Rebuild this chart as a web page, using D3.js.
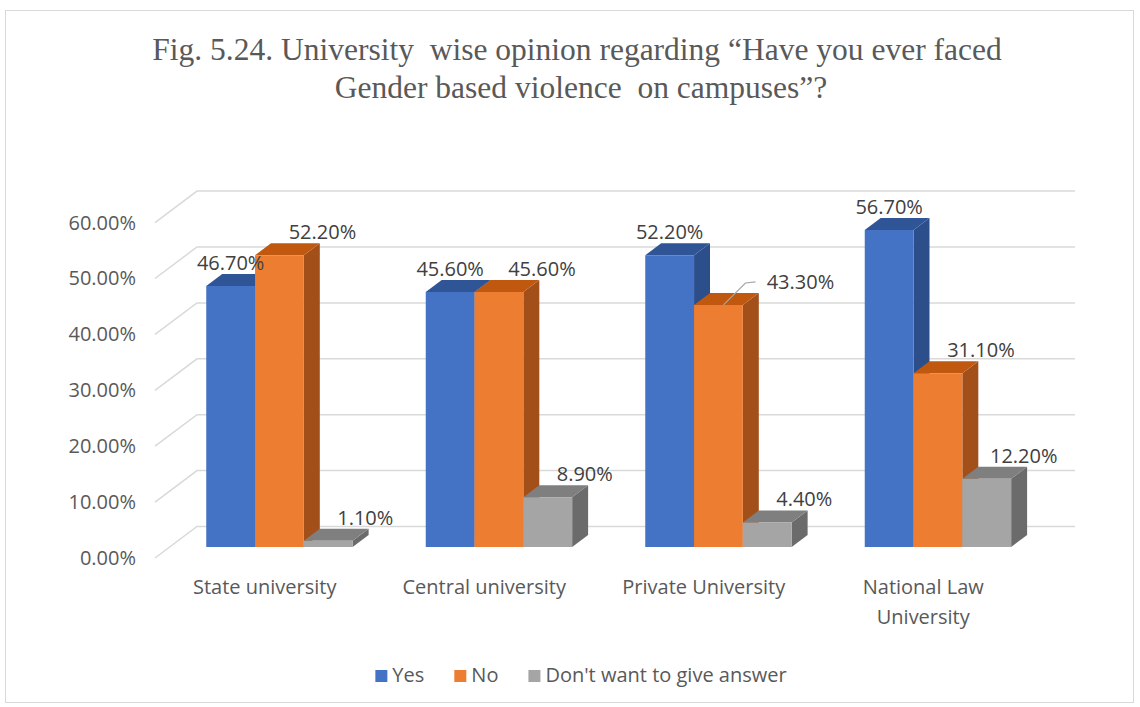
<!DOCTYPE html>
<html>
<head>
<meta charset="utf-8">
<script src="https://cdn.jsdelivr.net/npm/d3@7"></script>
<style>
  body { margin: 0; background: #fff; }
  text { font-family: "Open Sans", sans-serif; }
</style>
</head>
<body>
<script>
// chart data
const categories = ["State university", "Central university", "Private University", "National Law University"];
const seriesNames = ["Yes", "No", "Don't want to give answer"];
const yesValues = [46.7, 45.6, 52.2, 56.7];
const noValues = [52.2, 45.6, 43.3, 31.1];
const dontValues = [1.1, 8.9, 4.4, 12.2];
const yTicks = [0, 10, 20, 30, 40, 50, 60];

const seriesValues = [yesValues, noValues, dontValues];

const width = 1140, height = 707;

// face colours: front, top, side
const colors = [
    { front: "#4472c4", top: "#2f5597", side: "#2c4f8c" },
    { front: "#ed7d31", top: "#c0580f", side: "#a34f1a" },
    { front: "#a5a5a5", top: "#7f7f7f", side: "#6b6b6b" }
];

const svg = d3.select("body").append("svg")
    .attr("width", width)
    .attr("height", height);

svg.append("rect")
    .attr("x", 5.5).attr("y", 10.5)
    .attr("width", 1128).attr("height", 692)
    .attr("fill", "#fff")
    .attr("stroke", "#d9d9d9");

// title
const title = svg.append("text")
    .attr("text-anchor", "middle")
    .style("font-family", "'Liberation Serif', serif")
    .style("font-size", "31.5px")
    .style("fill", "#595959")
    .style("white-space", "pre");
title.append("tspan").attr("x", 577).attr("y", 60)
    .text("Fig. 5.24. University  wise opinion regarding \u201cHave you ever faced");
title.append("tspan").attr("x", 581).attr("y", 98)
    .text("Gender based violence  on campuses\u201d?");

// scales
const x = d3.scaleBand()
    .domain(categories)
    .range([155, 1033])
    .paddingInner(0.333)
    .paddingOuter(0.1665);

const xs = d3.scaleBand()
    .domain(seriesNames)
    .range([0, x.bandwidth()]);

const y = d3.scaleLinear()
    .domain([0, 60])
    .range([558, 222.6]);

// oblique depth: z = 0 front of floor, z = 1 back wall
const DX = 42, DY = -31.5;
const Z0 = 0.35, Z1 = 0.73;
const P = (px, v, z) => [px + z * DX, y(v) + z * DY];
const line = d3.line();

// gridlines (left wall diagonal + back wall)
const [xL, xR] = x.range();
svg.append("g").selectAll("path")
    .data(yTicks)
    .enter().append("path")
    .attr("d", t => line([P(xL, t, 0), P(xL, t, 1), P(xR, t, 1)]))
    .attr("fill", "none")
    .attr("stroke", "#d9d9d9")
    .attr("stroke-width", 1.5);

// y axis labels
const yAxis = d3.axisLeft(y)
    .tickValues(yTicks)
    .tickSize(0)
    .tickPadding(0)
    .tickFormat(d => d3.format(".2%")(d / 100));

const yg = svg.append("g")
    .attr("transform", "translate(136,0)")
    .call(yAxis);
yg.select(".domain").remove();
yg.selectAll("text")
    .style("font-family", "'Open Sans', sans-serif")
    .style("font-size", "20px")
    .style("fill", "#595959");

// bars
const bars = [];
categories.forEach((c, ci) => {
    seriesNames.forEach((s, si) => {
        bars.push({ cat: c, ci: ci, series: s, si: si, value: seriesValues[si][ci] });
    });
});

const barG = svg.append("g");
bars.forEach(d => {
    const x0 = x(d.cat) + xs(d.series);
    const w = xs.bandwidth();
    const v = d.value;
    const col = colors[d.si];
    const g = barG.append("g");
    g.append("path")
        .attr("d", line([P(x0 + w, 0, Z0), P(x0 + w, 0, Z1), P(x0 + w, v, Z1), P(x0 + w, v, Z0)]) + "Z")
        .attr("fill", col.side);
    g.append("path")
        .attr("d", line([P(x0, v, Z0), P(x0 + w, v, Z0), P(x0 + w, v, Z1), P(x0, v, Z1)]) + "Z")
        .attr("fill", col.top);
    g.append("path")
        .attr("d", line([P(x0, 0, Z0), P(x0 + w, 0, Z0), P(x0 + w, v, Z0), P(x0, v, Z0)]) + "Z")
        .attr("fill", col.front);
});

// value labels: Excel pushes No / Don't labels to the right of the bar
const labelNudge = [0, 43, 37];
const leaderLabels = { "Private University|No": 82 };

const labelG = svg.append("g");
bars.forEach(d => {
    const x0 = x(d.cat) + xs(d.series);
    const w = xs.bandwidth();
    const front = P(x0 + w / 2, d.value, Z0);
    const back = P(x0 + w / 2, d.value, Z1);
    const key = d.cat + "|" + d.series;
    let lx = front[0] + labelNudge[d.si];
    const ly = back[1] - 4;
    if (leaderLabels[key] !== undefined) {
        lx = front[0] + leaderLabels[key];
        const sx = front[0] + 5, sy = front[1];
        labelG.append("path")
            .attr("d", line([[sx, sy], [sx + 22, ly - 6], [sx + 32, ly - 7]]))
            .attr("fill", "none")
            .attr("stroke", "#a6a6a6")
            .attr("stroke-width", 1.2);
    }
    labelG.append("text")
        .attr("x", lx)
        .attr("y", ly)
        .attr("text-anchor", "middle")
        .style("font-size", "20px")
        .style("fill", "#404040")
        .text(d3.format(".2%")(d.value / 100));
});

// category labels, wrapped when wider than the label room
const wrapWidth = 205;
const catG = svg.append("g");
categories.forEach(c => {
    const t = catG.append("text")
        .attr("text-anchor", "middle")
        .style("font-size", "20px")
        .style("fill", "#595959");
    const cx = x(c) + x.bandwidth() / 2;
    const words = c.split(" ");
    let lineWords = [];
    let lineNo = 0;
    let tspan = t.append("tspan").attr("x", cx).attr("y", 594);
    words.forEach(word => {
        lineWords.push(word);
        tspan.text(lineWords.join(" "));
        if (tspan.node().getComputedTextLength() > wrapWidth && lineWords.length > 1) {
            lineWords.pop();
            tspan.text(lineWords.join(" "));
            lineWords = [word];
            lineNo++;
            tspan = t.append("tspan").attr("x", cx).attr("y", 594 + lineNo * 30).text(word);
        }
    });
});

// legend
const legend = svg.append("g");
let lxPos = 0;
const items = [];
seriesNames.forEach((s, i) => {
    const g = legend.append("g");
    g.append("rect")
        .attr("x", 0).attr("y", -12)
        .attr("width", 12).attr("height", 12)
        .attr("fill", colors[i].front);
    const t = g.append("text")
        .attr("x", 17).attr("y", 0)
        .style("font-size", "20px")
        .style("fill", "#595959")
        .text(s);
    items.push({ g: g, w: 17 + t.node().getComputedTextLength() });
});
items.forEach((it, i) => {
    it.g.attr("transform", `translate(${lxPos},0)`);
    lxPos += it.w + (i < items.length - 1 ? 30 : 0);
});
legend.attr("transform", `translate(${581 - lxPos / 2},682)`);
</script>
</body>
</html>
